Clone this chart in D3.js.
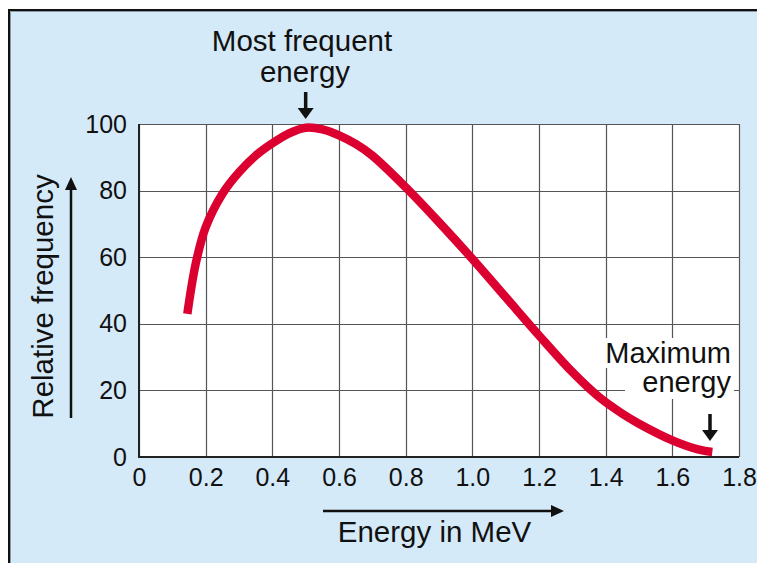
<!DOCTYPE html>
<html><head><meta charset="utf-8">
<script src="https://cdn.jsdelivr.net/npm/d3@7"></script>
<style>html,body{margin:0;padding:0;background:#fff;}svg{display:block;}</style>
</head><body>
<script>
const energy = [0.145,0.17,0.2,0.25,0.3,0.35,0.4,0.45,0.5,0.55,0.6,0.65,0.7,0.8,0.9,1.0,1.1,1.2,1.3,1.38,1.45,1.5,1.6,1.68,1.72];
const freq   = [43,58,69,79,85.5,90.5,94.2,97.2,98.9,98.4,96.6,94,90.5,81,70.5,59.5,48,36.5,25.5,18,13,10,5,2.2,1.5];
const xTicks = [0,0.2,0.4,0.6,0.8,1.0,1.2,1.4,1.6,1.8];
const xTickLabels = ["0","0.2","0.4","0.6","0.8","1.0","1.2","1.4","1.6","1.8"];
const yTicks = [0,20,40,60,80,100];
const peakEnergy = 0.5, maxEnergy = 1.72;

const W = 757, H = 563;
const svg = d3.select("body").append("svg").attr("width", W).attr("height", H);
const font = "'Liberation Sans', Arial, Helvetica, sans-serif";

// panel
svg.append("rect").attr("x", 9).attr("y", 10).attr("width", W).attr("height", H).attr("fill", "#d5eaf8");
svg.append("line").attr("x1", 8).attr("x2", W).attr("y1", 10).attr("y2", 10).attr("stroke", "#111").attr("stroke-width", 2);
svg.append("line").attr("x1", 9).attr("x2", 9).attr("y1", 9).attr("y2", H).attr("stroke", "#111").attr("stroke-width", 2);
svg.append("line").attr("x1", 10.5).attr("x2", W).attr("y1", 11.5).attr("y2", 11.5).attr("stroke", "#8a98a4").attr("stroke-width", 1);
svg.append("line").attr("x1", 10.5).attr("x2", 10.5).attr("y1", 11.5).attr("y2", H).attr("stroke", "#8a98a4").attr("stroke-width", 1);

const x = d3.scaleLinear().domain([0, 1.8]).range([139, 739]);
const y = d3.scaleLinear().domain([0, 100]).range([457, 124]);

// plot background
svg.append("rect").attr("x", x(0)).attr("y", y(100)).attr("width", x(1.8) - x(0)).attr("height", y(0) - y(100)).attr("fill", "#fff");

// grid
const g = svg.append("g");
g.selectAll(".vg").data(xTicks).join("line")
  .attr("x1", d => Math.round(x(d)) + 0.5).attr("x2", d => Math.round(x(d)) + 0.5)
  .attr("y1", y(100)).attr("y2", y(0)).attr("stroke", "#555").attr("stroke-width", 1.2);
g.selectAll(".hg").data(yTicks).join("line")
  .attr("y1", d => Math.round(y(d)) + 0.5).attr("y2", d => Math.round(y(d)) + 0.5)
  .attr("x1", x(0)).attr("x2", x(1.8)).attr("stroke", "#555").attr("stroke-width", 1.2);
// axes lines
svg.append("line").attr("x1", x(0)).attr("x2", x(0)).attr("y1", y(100)).attr("y2", y(0)+1).attr("stroke", "#222").attr("stroke-width", 2);
svg.append("line").attr("x1", x(0)-1).attr("x2", x(1.8)).attr("y1", y(0)).attr("y2", y(0)).attr("stroke", "#222").attr("stroke-width", 2);

// axes tick labels via d3 axes (no tick lines)
const xAxis = d3.axisBottom(x).tickValues(xTicks).tickFormat((d, i) => xTickLabels[i]).tickSize(0).tickPadding(11);
const xg = svg.append("g").attr("transform", `translate(0,${y(0)})`).call(xAxis);
xg.select(".domain").remove();
xg.selectAll("text").attr("font-family", font).attr("font-size", 25).attr("fill", "#111");

const yAxis = d3.axisLeft(y).tickValues(yTicks).tickSize(0).tickPadding(12);
const yg = svg.append("g").attr("transform", `translate(${x(0)},0)`).call(yAxis);
yg.select(".domain").remove();
yg.selectAll("text").attr("font-family", font).attr("font-size", 25).attr("fill", "#111");

// label background box (masks grid)
svg.append("rect").attr("x", 603).attr("y", 338).attr("width", 131).attr("height", 30).attr("fill", "#fff");
svg.append("rect").attr("x", 625).attr("y", 368).attr("width", 109).attr("height", 31).attr("fill", "#fff");

// curve
const line = d3.line().x((d, i) => x(energy[i])).y(d => y(d)).curve(d3.curveCatmullRom.alpha(0.5));
svg.append("path").attr("d", line(freq)).attr("fill", "none").attr("stroke", "#dc0030")
  .attr("stroke-width", 8.5).attr("stroke-linecap", "butt").attr("stroke-linejoin", "round");

// annotations
function downArrow(cx, y1, y2) {
  svg.append("line").attr("x1", cx).attr("x2", cx).attr("y1", y1).attr("y2", y2 - 8).attr("stroke", "#111").attr("stroke-width", 3.5);
  svg.append("path").attr("d", `M${cx-8},${y2-11} L${cx+8},${y2-11} L${cx},${y2} Z`).attr("fill", "#111");
}
const t1 = svg.append("text").attr("font-family", font).attr("font-size", 29.5).attr("fill", "#111").attr("text-anchor", "middle");
t1.append("tspan").attr("x", 302).attr("y", 51).text("Most frequent");
t1.append("tspan").attr("x", 305).attr("y", 82).text("energy");
downArrow(x(peakEnergy), 92, 119);

const t2 = svg.append("text").attr("font-family", font).attr("font-size", 29).attr("fill", "#111").attr("text-anchor", "end");
t2.append("tspan").attr("x", 731).attr("y", 363).text("Maximum");
t2.append("tspan").attr("x", 731).attr("y", 392).text("energy");
downArrow(710, 414, 441);

// axis titles with arrows
svg.append("line").attr("x1", 323).attr("x2", 553).attr("y1", 511).attr("y2", 511).attr("stroke", "#111").attr("stroke-width", 2.5);
svg.append("path").attr("d", "M551,505 L564,511 L551,517 Z").attr("fill", "#111");
svg.append("text").attr("x", 434.5).attr("y", 542).attr("text-anchor", "middle").attr("font-family", font).attr("font-size", 29.5).attr("fill", "#111").text("Energy in MeV");

svg.append("line").attr("x1", 71).attr("x2", 71).attr("y1", 418).attr("y2", 188).attr("stroke", "#111").attr("stroke-width", 2.5);
svg.append("path").attr("d", "M65,190 L71,177 L77,190 Z").attr("fill", "#111");
svg.append("text").attr("transform", "translate(53,296.5) rotate(-90)").attr("text-anchor", "middle").attr("font-family", font).attr("font-size", 29.5).attr("fill", "#111").text("Relative frequency");
</script>
</body></html>
